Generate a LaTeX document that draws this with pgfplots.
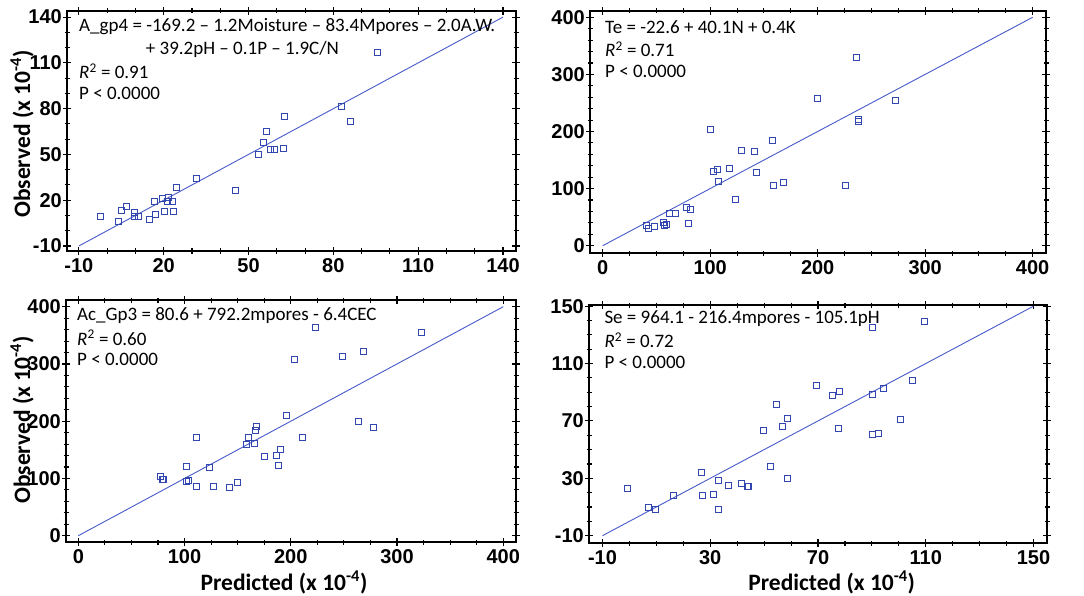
\documentclass[border=0pt]{standalone}
\usepackage{pgfplots}
\pgfplotsset{compat=1.18}
\usepackage{fontspec}
\setmainfont{Carlito}
\newfontfamily\tickfont{Liberation Sans}
\definecolor{mk}{RGB}{50,70,175}
\definecolor{ln}{RGB}{70,90,200}
\pgfplotsset{
  panel/.style={
    scale only axis, anchor=north west,
    axis line style={line width=1.4pt},
    tick align=center, major tick length=8pt, minor tick length=5pt,
    every tick/.style={black, line width=1.1pt},
    ticklabel style={font=\fontsize{20}{21}\selectfont\tickfont\bfseries},
    /pgf/number format/assume math mode=true,
    yticklabel style={inner sep=1pt},
    xticklabel style={inner sep=1pt, yshift=-2pt},
  },
  pts/.style={only marks, mark=square, mark size=3pt, mk, mark options={line width=0.8pt}},
  fit/.style={ln, line width=0.9pt, no marks},
}
\newcommand{\ann}{\fontsize{19}{20}\selectfont}
\newcommand{\lab}{\fontsize{23.5}{24}\selectfont\bfseries}
\begin{document}
\begin{tikzpicture}
% Panel 1
\begin{axis}[panel, at={(67pt,-11pt)}, width=449pt, height=240pt,
  xmin=-14.2, xmax=144.6, ymin=-13.3, ymax=144,
  xtick={-10,20,...,140}, ytick={-10,20,...,140}, minor tick num=2]
\addplot[pts] coordinates {
(-2.3,9.2) (4.15,5.9) (4.98,13.3) (6.98,15.7) (9.8,12.0) (9.8,9.2) (10.9,9.6)
(14.9,7.7) (16.65,19.4) (16.65,19.0) (17.0,10.7) (19.4,21.2) (20.4,12.4) (21.25,19.4)
(21.5,22.0) (23.0,19.4) (23.4,12.9) (24.4,28.6) (31.4,34.5) (45.5,26.2) (53.6,49.9)
(55.1,58.2) (56.4,65.2) (57.8,53.2) (59.1,53.4) (62.2,54.1) (62.8,74.6) (82.8,81.6)
(85.9,71.5) (95.7,116.7)};
\addplot[fit] coordinates {(-10,-10) (140,140)};
\end{axis}
% Panel 2
\begin{axis}[panel, at={(590pt,-11pt)}, width=456pt, height=242pt,
  xmin=-11.8, xmax=412.4, ymin=-12.8, ymax=411,
  xtick={0,100,...,400}, ytick={0,100,...,400}, minor x tick num=3, minor y tick num=4]
\addplot[pts] coordinates {
(40.3,35.6) (42.2,30.4) (47.8,34.5) (56.7,40.9) (57.1,35.6) (59.5,36.8) (62.0,57.2)
(67.6,56.1) (77.5,67.2) (79.7,39.7) (81.9,63.6) (100.2,204.4) (102.9,129.6) (106.4,133.7)
(107.3,112.7) (117.5,136.1) (117.5,134.5) (123.4,81.8) (129.3,167.6) (141.1,165.8) (142.9,128.5)
(142.9,127.5) (157.8,185.1) (158.4,106.3) (167.7,110.4) (199.4,258.7) (225.7,105.1) (236.0,330.5)
(237.8,221.3) (237.8,218.4) (272.6,254.0)};
\addplot[fit] coordinates {(0,0) (400,400)};
\end{axis}
% Panel 3
\begin{axis}[panel, at={(66pt,-300pt)}, width=450pt, height=242pt,
  xmin=-11.6, xmax=412, ymin=-11, ymax=411.7,
  xtick={0,100,...,400}, ytick={0,100,...,400}, minor x tick num=3, minor y tick num=4]
\addplot[pts] coordinates {
(77.4,104.2) (79.6,97.8) (80.2,97.8) (101.3,121.7) (101.3,94.3) (103.8,96.7) (110.7,172.3)
(111.3,86.2) (123.5,119.4) (127.6,85.6) (142.3,84.4) (150.2,93.2) (158.6,159.0) (160.5,171.8)
(165.8,161.3) (166.5,184.0) (167.4,191.0) (175.2,138.6) (186.2,140.3) (186.6,140.3) (188.7,123.4)
(190.3,151.4) (196.2,210.8) (203.1,307.4) (211.3,171.2) (223.2,364.5) (248.6,313.8) (263.6,199.1)
(268.7,322.0) (277.7,188.6) (322.9,354.6)};
\addplot[fit] coordinates {(0,0) (400,400)};
\end{axis}
% Panel 4
\begin{axis}[panel, at={(589pt,-305pt)}, width=458pt, height=238pt,
  xmin=-15, xmax=155, ymin=-15.1, ymax=150.8,
  xtick={-10,30,...,150}, ytick={-10,30,...,150}, minor tick num=3]
\addplot[pts] coordinates {
(-0.71,22.7) (7.2,9.7) (9.8,8.1) (16.25,18.3) (26.8,34.3) (27.0,18.3) (31.1,18.5)
(33.2,28.7) (33.2,8.55) (36.9,25.2) (41.6,26.6) (43.7,24.6) (44.0,24.6) (49.7,63.5)
(52.3,38.2) (54.5,81.4) (56.6,66.3) (58.6,71.9) (58.6,29.7) (69.3,94.6) (75.3,87.9)
(77.4,64.9) (77.8,90.9) (90.2,134.9) (90.2,88.8) (90.2,60.7) (92.4,61.2) (94.4,93.0)
(100.7,71.2) (105.2,98.3) (109.4,139.6)};
\addplot[fit] coordinates {(-10,-10) (150,150)};
\end{axis}
% annotations
\node[anchor=west, inner sep=0] at (79pt,-27pt) {\ann A\_gp4 = -169.2 – 1.2Moisture – 83.4Mpores – 2.0A.W.};
\node[anchor=west, inner sep=0] at (145.7pt,-49.3pt) {\ann + 39.2pH – 0.1P – 1.9C/N};
\node[anchor=west, inner sep=0] at (79pt,-71pt) {\ann \textit{R}\textsuperscript{2} = 0.91};
\node[anchor=west, inner sep=0] at (79pt,-93.3pt) {\ann P < 0.0000};
\node[anchor=west, inner sep=0] at (605pt,-26.7pt) {\ann Te = -22.6 + 40.1N + 0.4K};
\node[anchor=west, inner sep=0] at (605pt,-49pt) {\ann \textit{R}\textsuperscript{2} = 0.71};
\node[anchor=west, inner sep=0] at (605pt,-71pt) {\ann P < 0.0000};
\node[anchor=west, inner sep=0] at (77pt,-315.7pt) {\ann Ac\_Gp3 = 80.6 + 792.2mpores - 6.4CEC};
\node[anchor=west, inner sep=0] at (77pt,-337.7pt) {\ann \textit{R}\textsuperscript{2} = 0.60};
\node[anchor=west, inner sep=0] at (77pt,-359.7pt) {\ann P < 0.0000};
\node[anchor=west, inner sep=0] at (604.3pt,-318.3pt) {\ann Se = 964.1 - 216.4mpores - 105.1pH};
\node[anchor=west, inner sep=0] at (604.3pt,-340pt) {\ann \textit{R}\textsuperscript{2} = 0.72};
\node[anchor=west, inner sep=0] at (604.3pt,-362.3pt) {\ann P < 0.0000};
% axis labels
\node[rotate=90, inner sep=0] at (22pt,-134pt) {\lab Observed (x 10\textsuperscript{-4})};
\node[rotate=90, inner sep=0] at (22pt,-420pt) {\lab Observed (x 10\textsuperscript{-4})};
\node[inner sep=0] at (284pt,-582.7pt) {\lab Predicted (x 10\textsuperscript{-4})};
\node[inner sep=0] at (831.7pt,-582.7pt) {\lab Predicted (x 10\textsuperscript{-4})};
\pgfresetboundingbox
\path[use as bounding box] (0,0) rectangle (1084pt,-596pt);
\end{tikzpicture}
\end{document}
